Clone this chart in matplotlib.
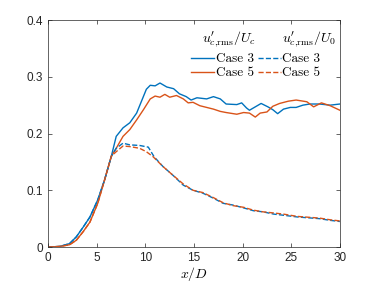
import matplotlib
matplotlib.use("Agg")
import matplotlib.pyplot as plt

plt.rcParams['font.family'] = ['Liberation Sans', 'DejaVu Sans']
plt.rcParams['mathtext.fontset'] = 'cm'
plt.rcParams['font.size'] = 8.5

blue = '#0072BD'
orange = '#D95319'

# Case 3, normalised by U_c
x3c = [0, 1.2, 2.2, 2.9, 3.6, 4.3, 5.1, 5.8, 6.5, 7.0, 7.7, 8.4, 9.1, 9.6, 10.1, 10.5, 11.0, 11.5,
       12.2, 12.9, 13.5, 14.2, 14.7, 15.3, 16.3, 17.0, 17.7, 18.3, 19.4, 19.9, 20.4, 20.7, 21.3,
       21.9, 22.6, 23.1, 23.6, 24.2, 24.9, 25.5, 26.2, 26.9, 27.9, 29.0, 30.0]
y3c = [0, 0.001, 0.006, 0.018, 0.035, 0.053, 0.083, 0.118, 0.16, 0.195, 0.21, 0.219, 0.236, 0.257,
       0.278, 0.285, 0.284, 0.289, 0.282, 0.279, 0.27, 0.265, 0.259, 0.263, 0.261, 0.265, 0.261,
       0.252, 0.251, 0.254, 0.245, 0.241, 0.247, 0.253, 0.247, 0.242, 0.235, 0.243, 0.246, 0.246,
       0.25, 0.252, 0.252, 0.25, 0.252]

# Case 5, normalised by U_c
x5c = [0, 1.2, 2.2, 2.9, 3.6, 4.3, 5.1, 5.8, 6.5, 7.0, 7.7, 8.4, 9.1, 9.8, 10.5, 11.0, 11.5, 12.0,
       12.5, 13.2, 13.9, 14.4, 14.9, 15.6, 16.3, 17.0, 17.7, 18.3, 19.4, 20.1, 20.7, 21.3, 21.8,
       22.5, 23.1, 23.8, 24.7, 25.5, 26.6, 27.3, 28.1, 29.0, 30.0]
y5c = [0, 0.001, 0.004, 0.012, 0.027, 0.044, 0.077, 0.118, 0.16, 0.174, 0.195, 0.207, 0.224,
       0.242, 0.261, 0.266, 0.264, 0.269, 0.264, 0.267, 0.261, 0.254, 0.255, 0.249, 0.246, 0.243,
       0.239, 0.237, 0.234, 0.237, 0.236, 0.229, 0.236, 0.238, 0.248, 0.253, 0.257, 0.259, 0.256,
       0.247, 0.254, 0.249, 0.241]

# Case 3, normalised by U_0
x30 = [0, 1.2, 2.2, 2.9, 3.6, 4.3, 5.1, 5.8, 6.5, 7.0, 7.7, 8.4, 9.4, 10.3, 10.9, 11.8, 12.8,
       13.9, 14.9, 15.9, 17.0, 18.0, 19.0, 20.1, 21.1, 22.1, 23.2, 24.2, 25.6, 27.9, 29.0, 30.0]
y30 = [0, 0.001, 0.006, 0.018, 0.035, 0.053, 0.083, 0.118, 0.16, 0.174, 0.183, 0.18, 0.179,
       0.176, 0.159, 0.142, 0.127, 0.109, 0.1, 0.095, 0.086, 0.077, 0.074, 0.069, 0.064, 0.062,
       0.058, 0.056, 0.053, 0.05, 0.047, 0.045]

# Case 5, normalised by U_0
x50 = [0, 1.2, 2.2, 2.9, 3.6, 4.3, 5.1, 5.8, 6.5, 7.0, 7.7, 8.4, 9.4, 10.1, 10.8, 11.8, 12.8,
       13.9, 14.9, 15.9, 17.0, 18.0, 19.0, 20.1, 21.1, 22.1, 23.2, 24.2, 25.6, 27.9, 29.0, 30.0]
y50 = [0, 0.001, 0.004, 0.012, 0.027, 0.044, 0.077, 0.118, 0.16, 0.168, 0.178, 0.177, 0.174,
       0.168, 0.159, 0.142, 0.127, 0.111, 0.1, 0.096, 0.087, 0.078, 0.073, 0.07, 0.065, 0.062,
       0.06, 0.058, 0.054, 0.051, 0.048, 0.046]

fig = plt.figure(figsize=(3.76, 2.82), dpi=100)
ax = fig.add_axes([0.128, 0.124, 0.776, 0.805])

l1, = ax.plot(x3c, y3c, color=blue, lw=1)
l2, = ax.plot(x5c, y5c, color=orange, lw=1)
l3, = ax.plot(x30, y30, color=blue, lw=1, ls='--')
l4, = ax.plot(x50, y50, color=orange, lw=1, ls='--')

ax.set_xlim(0, 30)
ax.set_ylim(0, 0.4)
ax.set_xticks([0, 5, 10, 15, 20, 25, 30])
ax.set_yticks([0, 0.1, 0.2, 0.3, 0.4])
ax.set_yticklabels(['0', '0.1', '0.2', '0.3', '0.4'])
ax.tick_params(direction='in', top=True, right=True, length=3, width=0.5, colors='#262626')
for s in ax.spines.values():
    s.set_linewidth(0.5)
    s.set_color('#262626')
ax.set_xlabel('$x/D$', fontsize=10, labelpad=1)

# legend: two columns of lines, headers drawn as text above each column
leg = ax.legend([l1, l2, l3, l4], ['Case 3', 'Case 5', 'Case 3', 'Case 5'], ncol=2,
                loc='upper left', bbox_to_anchor=(0.49, 0.855), frameon=False,
                handlelength=1.75, handletextpad=0.1, columnspacing=0.3,
                labelspacing=0.15, borderpad=0, borderaxespad=0,
                prop={'family': 'cmr10', 'size': 9.5})
ax.text(0.527, 0.915, r"$u^{\prime}_{c{,}\mathrm{rms}}/U_c$", transform=ax.transAxes,
        fontsize=10, ha='left', va='center')
ax.text(0.801, 0.915, r"$u^{\prime}_{c{,}\mathrm{rms}}/U_0$", transform=ax.transAxes,
        fontsize=10, ha='left', va='center')

fig.savefig('out.png', dpi=100)
